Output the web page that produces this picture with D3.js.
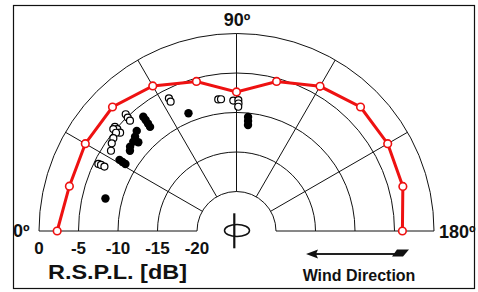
<!DOCTYPE html>
<html>
<head>
<meta charset="utf-8">
<script src="https://cdn.jsdelivr.net/npm/d3@7"></script>
<style>
  body { margin: 0; background: #fff; }
  svg { display: block; }
  text { font-family: "Liberation Sans", Arial, sans-serif; font-weight: bold; fill: #111; }
</style>
</head>
<body>
<div id="chart"></div>
<script>

// ring values (dB) and spoke angles (deg, 0 = left, 180 = right)
var ringDb = [-20, -15, -10, -5, 0];
var spokeAngles = [30, 60, 90, 120, 150];
var tickLabels = ["-20", "-15", "-10", "-5", "0"];

// red envelope line
var lineAngles = [0, 15, 30, 45, 60, 75, 90, 105, 120, 135, 150, 165, 180];
var lineDb = [-2.3, -3.1, -2.9, -2.8, -3.8, -5.4, -7.4, -5.4, -3.85, -2.8, -2.9, -3.2, -4.0];

// open circles
var openAngles = [46.5, 46.2, 46.0, 40.6, 40.5, 39.6, 40.2, 39.2, 37.0, 35.1, 32.6, 25.9, 26.0, 26.0,
                  63.0, 63.0, 82.1, 83.3, 88.6, 90.8, 90.9, 90.8];
var openDb = [-4.63, -5.11, -5.59, -4.73, -5.16, -4.76, -5.71, -5.32, -5.48, -5.70, -6.14, -5.56, -5.92, -6.40,
              -6.15, -6.63, -8.19, -8.21, -8.48, -8.42, -8.86, -9.27];

// filled dots
var filledAngles = [50.8, 50.7, 50.5, 50.3, 67.8, 45.1, 42.9, 42.1, 40.9, 38.4, 37.0,
                    31.3, 31.2, 31.1, 13.9, 95.8, 96.0, 96.2];
var filledDb = [-6.33, -6.84, -7.38, -7.87, -8.91, -7.11, -7.47, -8.25, -7.72, -7.81, -8.11,
                -7.67, -8.13, -8.58, -7.91, -10.5, -11.0, -11.5];

var W = 478, H = 292;
var cx = 236.5, cy = 231;

var svg = d3.select("#chart").append("svg")
  .attr("width", W)
  .attr("height", H);

// frame
svg.append("rect")
  .attr("x", 13.5).attr("y", 5.5)
  .attr("width", 461).attr("height", 283)
  .attr("fill", "none")
  .attr("stroke", "#111")
  .attr("stroke-width", 1.2);

var r = d3.scaleLinear().domain([-20, 0]).range([39.5, 197.5]);
// d3 radial angles: clockwise from 12 o'clock
var a = d3.scaleLinear().domain([0, 180]).range([-Math.PI / 2, Math.PI / 2]);

var g = svg.append("g").attr("transform", "translate(" + cx + "," + cy + ")");

// rings
g.selectAll("path.ring")
  .data(ringDb)
  .enter()
  .append("path")
    .attr("class", "ring")
    .attr("d", function(d) {
      var p = d3.path();
      p.arc(0, 0, r(d), Math.PI, 2 * Math.PI);
      return p.toString();
    })
    .attr("fill", "none")
    .attr("stroke", "#111")
    .attr("stroke-width", 1);

// spokes
g.selectAll("line.spoke")
  .data(spokeAngles)
  .enter()
  .append("line")
    .attr("class", "spoke")
    .attr("x1", function(d) { return d3.pointRadial(a(d), r(-20))[0]; })
    .attr("y1", function(d) { return d3.pointRadial(a(d), r(-20))[1]; })
    .attr("x2", function(d) { return d3.pointRadial(a(d), r(0))[0]; })
    .attr("y2", function(d) { return d3.pointRadial(a(d), r(0))[1]; })
    .attr("stroke", "#111")
    .attr("stroke-width", 1);

// baseline both sides
[-1, 1].forEach(function(s) {
  g.append("line")
    .attr("x1", s * r(-20)).attr("y1", 0)
    .attr("x2", s * r(0)).attr("y2", 0)
    .attr("stroke", "#111")
    .attr("stroke-width", 1);
});

// microphone symbol in the middle
g.append("ellipse")
  .attr("cx", 0.5).attr("cy", -0.5)
  .attr("rx", 12.5).attr("ry", 6)
  .attr("fill", "none")
  .attr("stroke", "#111")
  .attr("stroke-width", 1.5);
g.append("line")
  .attr("x1", -2.2).attr("y1", -17.7)
  .attr("x2", -2.2).attr("y2", 17.3)
  .attr("stroke", "#111")
  .attr("stroke-width", 2.2);

// filled dots
g.selectAll("circle.filled")
  .data(filledAngles)
  .enter()
  .append("circle")
    .attr("class", "filled")
    .attr("cx", function(d, i) { return d3.pointRadial(a(d), r(filledDb[i]))[0]; })
    .attr("cy", function(d, i) { return d3.pointRadial(a(d), r(filledDb[i]))[1]; })
    .attr("r", 4.2)
    .attr("fill", "#000");

// open circles
g.selectAll("circle.open")
  .data(openAngles)
  .enter()
  .append("circle")
    .attr("class", "open")
    .attr("cx", function(d, i) { return d3.pointRadial(a(d), r(openDb[i]))[0]; })
    .attr("cy", function(d, i) { return d3.pointRadial(a(d), r(openDb[i]))[1]; })
    .attr("r", 3.5)
    .attr("fill", "#fff")
    .attr("stroke", "#000")
    .attr("stroke-width", 1.2);

// red line
var line = d3.lineRadial()
  .angle(function(d) { return a(d); })
  .radius(function(d, i) { return r(lineDb[i]); });

g.append("path")
  .attr("d", line(lineAngles))
  .attr("fill", "none")
  .attr("stroke", "#ee1111")
  .attr("stroke-width", 3);

g.selectAll("circle.red")
  .data(lineAngles)
  .enter()
  .append("circle")
    .attr("class", "red")
    .attr("cx", function(d, i) { return d3.pointRadial(a(d), r(lineDb[i]))[0]; })
    .attr("cy", function(d, i) { return d3.pointRadial(a(d), r(lineDb[i]))[1]; })
    .attr("r", 3.8)
    .attr("fill", "#fff")
    .attr("stroke", "#ee1111")
    .attr("stroke-width", 1.6);

// angle labels
svg.append("text").attr("x", 237).attr("y", 25.5)
  .attr("text-anchor", "middle").style("font-size", "18px").text("90º");
svg.append("text").attr("x", 13).attr("y", 237)
  .style("font-size", "18px").text("0º");
svg.append("text").attr("x", 439).attr("y", 237.5)
  .style("font-size", "18px").text("180º");

// radial tick labels (left side)
svg.selectAll("text.tick")
  .data(ringDb)
  .enter()
  .append("text")
    .attr("class", "tick")
    .attr("x", function(d) { return cx - r(d); })
    .attr("y", 253.5)
    .attr("text-anchor", "middle")
    .style("font-size", "17px")
    .text(function(d, i) { return tickLabels[i]; });

svg.append("text")
  .attr("x", 48).attr("y", 278.5)
  .attr("textLength", 139)
  .attr("lengthAdjust", "spacingAndGlyphs")
  .style("font-size", "20px")
  .text("R.S.P.L. [dB]");

// wind direction arrow
svg.append("line")
  .attr("x1", 315).attr("y1", 254)
  .attr("x2", 398).attr("y2", 254)
  .attr("stroke", "#222")
  .attr("stroke-width", 2);
svg.append("path")
  .attr("d", "M306,254 L318,249.5 L316,254 L318,258.5 Z")
  .attr("fill", "#111");
svg.append("path")
  .attr("d", "M397,249.5 L409,249.5 L403,256.5 L392,256.5 Z")
  .attr("fill", "#111");

svg.append("text")
  .attr("x", 359).attr("y", 281)
  .attr("text-anchor", "middle")
  .style("font-size", "16px")
  .text("Wind Direction");

</script>
</body>
</html>
